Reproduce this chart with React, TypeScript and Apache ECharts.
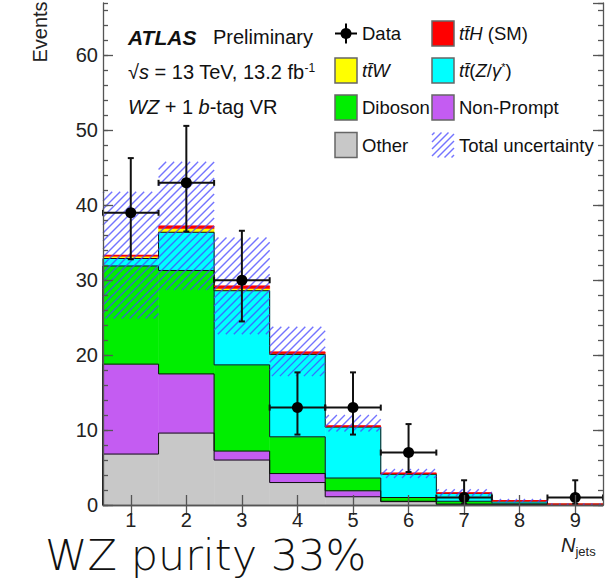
import React, { useEffect, useRef } from 'react';
import * as echarts from 'echarts';

// ---- data ----
const categories = ['1', '2', '3', '4', '5', '6', '7', '8', '9'];
const other = [6.8, 9.6, 6.0, 3.0, 1.1, 0.45, 0.1, 0.05, 0.03];
const nonPrompt = [12.0, 7.9, 1.2, 1.2, 0.8, 0.05, 0.0, 0.0, 0.0];
const diboson = [13.1, 13.8, 11.5, 4.9, 1.7, 0.5, 0.4, 0.2, 0.04];
const ttZ = [1.0, 5.1, 9.9, 11.0, 6.8, 3.1, 1.05, 0.3, 0.03];
const ttW = [0.3, 0.5, 0.3, 0.1, 0.05, 0.05, 0.02, 0.01, 0.0];
const ttH = [0.1, 0.3, 0.3, 0.2, 0.1, 0.08, 0.03, 0.01, 0.0];
const bandLo = [24.9, 28.7, 22.8, 17.2, 9.8, 3.6, 1.2, 0.35, 0.0];
const bandHi = [41.8, 45.8, 35.7, 23.8, 12.0, 4.8, 2.1, 0.8, 0.2];
const dataVals = [39, 43, 30, 13, 13, 7, 1, 0, 1];
const dataHi = [46.3, 50.6, 36.6, 17.7, 17.7, 10.8, 3.3, 0, 3.3];
const dataLo = [32.8, 36.5, 24.5, 9.4, 9.4, 4.4, 0.17, 0, 0.17];
const yTicks = { min: 0, max: 67, major: 10, minor: 2 };

const FF = '"Liberation Sans", Arial, Helvetica, sans-serif';
const frameColor = '#555';
const compColors = ['#c8c8c8', '#c45cf2', '#00ee00', '#00ffff', '#ffff00', '#ff0000'];
const hatchColor = 'rgba(70,70,255,0.75)';
const comps = [other, nonPrompt, diboson, ttZ, ttW, ttH];

function cumAt(i: number): number[] {
  let s = 0;
  return comps.map((c) => (s += c[i]));
}

function hatch(x0: number, y0: number, x1: number, y1: number, spacing: number, stroke: string, lw: number) {
  const out: any[] = [];
  const cStart = Math.ceil((x0 + y0) / spacing) * spacing;
  for (let c = cStart; c <= x1 + y1; c += spacing) {
    const xa = Math.max(x0, c - y1);
    const xb = Math.min(x1, c - y0);
    if (xb - xa < 0.5) continue;
    out.push({ type: 'line', shape: { x1: xa, y1: c - xa, x2: xb, y2: c - xb }, style: { stroke, lineWidth: lw } });
  }
  return out;
}

export default function App() {
  const ref = useRef<HTMLDivElement>(null);
  useEffect(() => {
    const chart = echarts.init(ref.current!, null, { renderer: 'svg' });
    const seriesData = categories.map((_, i) => [i, dataVals[i]]);

    const axisCommonX = {
      type: 'category',
      data: categories,
      boundaryGap: true,
      z: 10,
      axisLine: { show: true, lineStyle: { color: frameColor, width: 1.3 } },
      axisTick: { show: true, inside: true, alignWithLabel: true, length: 10, lineStyle: { color: frameColor, width: 1.3 } },
      splitLine: { show: false },
    };
    const yMajor = (pos: string, labels: boolean) => ({
      type: 'value',
      position: pos,
      min: yTicks.min,
      max: yTicks.max,
      interval: yTicks.major,
      z: 10,
      axisLine: { show: true, lineStyle: { color: frameColor, width: 1.3 } },
      axisTick: { show: true, inside: true, length: 10, lineStyle: { color: frameColor, width: 1.3 } },
      axisLabel: labels
        ? { show: true, fontSize: 20, color: '#222', fontFamily: FF, margin: 5, showMaxLabel: false }
        : { show: false },
      splitLine: { show: false },
    });
    const yMinor = (pos: string) => ({
      type: 'value',
      position: pos,
      min: yTicks.min,
      max: yTicks.max,
      interval: yTicks.minor,
      z: 10,
      axisLine: { show: false },
      axisTick: { show: true, inside: true, length: 5, lineStyle: { color: frameColor, width: 1.3 } },
      axisLabel: { show: false },
      splitLine: { show: false },
    });

    const row = [33.5, 70.5, 107.5, 145];
    const c1 = 335, c2 = 432, bw = 22, bh = 25;
    const t1 = 362, t2 = 459;
    const legFont = 18.5;
    const box = (x: number, y: number, color: string) => ({
      type: 'rect',
      shape: { x, y: y - bh / 2, width: bw, height: bh },
      style: { fill: color, stroke: '#666', lineWidth: 1.5 },
    });
    const ltext = (x: number, y: number, text: string, rich?: any) => ({
      type: 'text',
      x,
      y,
      style: { text, fontSize: legFont, fontFamily: FF, fill: '#111', verticalAlign: 'middle', rich },
    });
    const itRich = {
      i: { fontStyle: 'italic', fontSize: legFont, fontFamily: FF, fill: '#111' },
      s: { fontSize: 11, fontFamily: FF, fill: '#111', verticalAlign: 'top' },
    };

    const graphic: any[] = [
      // y-axis title
      {
        type: 'text', x: 40, y: 32, rotation: Math.PI / 2,
        style: { text: 'Events', fontSize: 20, fontFamily: FF, fill: '#222', align: 'center', verticalAlign: 'middle' },
      },
      // x-axis title
      {
        type: 'text', x: 561, y: 545,
        style: {
          text: '{n|N}{j|jets}', fontFamily: FF, verticalAlign: 'middle',
          rich: {
            n: { fontStyle: 'italic', fontSize: 20, fontFamily: FF, fill: '#222' },
            j: { fontSize: 13, fontFamily: FF, fill: '#222', verticalAlign: 'bottom', padding: [12, 0, 0, 0] },
          },
        },
      },
      // big caption
      {
        type: 'text', x: 45, y: 555,
        style: {
          text: 'WZ purity 33%', fontSize: 43, fontWeight: 200,
          fontFamily: '"DejaVu Sans", "Liberation Sans", sans-serif', fill: '#111', verticalAlign: 'middle',
          lineHeight: 43,
        },
      },
      // ATLAS label
      {
        type: 'text', x: 128, y: 37,
        style: { text: 'ATLAS', fontSize: 21, fontWeight: 'bold', fontStyle: 'italic', fontFamily: FF, fill: '#111', verticalAlign: 'middle' },
      },
      {
        type: 'text', x: 213, y: 37,
        style: { text: 'Preliminary', fontSize: 20, fontFamily: FF, fill: '#111', verticalAlign: 'middle' },
      },
      {
        type: 'text', x: 128, y: 72,
        style: {
          text: '√{i|s} = 13 TeV, 13.2 fb{s|-1}', fontSize: 20, fontFamily: FF, fill: '#111', verticalAlign: 'middle',
          rich: {
            i: { fontStyle: 'italic', fontSize: 20, fontFamily: FF, fill: '#111' },
            s: { fontSize: 12, fontFamily: FF, fill: '#111', verticalAlign: 'top' },
          },
        },
      },
      {
        type: 'text', x: 128, y: 107,
        style: {
          text: '{i|WZ} + 1 {i|b}-tag VR', fontSize: 20, fontFamily: FF, fill: '#111', verticalAlign: 'middle',
          rich: { i: { fontStyle: 'italic', fontSize: 20, fontFamily: FF, fill: '#111' } },
        },
      },
      // legend: Data marker
      { type: 'line', shape: { x1: c1, y1: row[0], x2: c1 + bw, y2: row[0] }, style: { stroke: '#000', lineWidth: 2 } },
      { type: 'line', shape: { x1: c1 + bw / 2, y1: row[0] - 10, x2: c1 + bw / 2, y2: row[0] + 10 }, style: { stroke: '#000', lineWidth: 2 } },
      { type: 'circle', shape: { cx: c1 + bw / 2, cy: row[0], r: 5.5 }, style: { fill: '#000' } },
      ltext(t1, row[0], 'Data'),
      box(c1, row[1], compColors[4]),
      ltext(t1, row[1], '{i|tt̄W}', itRich),
      box(c1, row[2], compColors[2]),
      ltext(t1, row[2], 'Diboson'),
      box(c1, row[3], compColors[0]),
      ltext(t1, row[3], 'Other'),
      box(c2, row[0], compColors[5]),
      ltext(t2, row[0], '{i|tt̄H} (SM)', itRich),
      box(c2, row[1], compColors[3]),
      ltext(t2, row[1], '{i|tt̄}({i|Z}/{i|γ}{s|*})', itRich),
      box(c2, row[2], compColors[1]),
      ltext(t2, row[2], 'Non-Prompt'),
      ...hatch(c2, row[3] - bh / 2, c2 + bw, row[3] + bh / 2, 7, hatchColor, 1.4),
      ltext(t2, row[3], 'Total uncertainty'),
    ];

    const option: any = {
      animation: false,
      backgroundColor: '#fff',
      grid: { left: 103, right: 2, top: 3, bottom: 75, containLabel: false },
      xAxis: [
        { ...axisCommonX, position: 'bottom', axisLabel: { show: true, fontSize: 20, color: '#222', fontFamily: FF, margin: 5 } },
        { ...axisCommonX, position: 'top', axisLabel: { show: false } },
      ],
      yAxis: [yMajor('left', true), yMinor('left'), yMajor('right', false), yMinor('right')],
      series: [
        {
          type: 'custom', name: 'stack', xAxisIndex: 0, yAxisIndex: 0, z: 2, clip: false,
          data: seriesData,
          renderItem: (params: any, api: any) => {
            const i = params.dataIndex;
            const w = api.size([1, 0])[0];
            const x0 = api.coord([i, 0])[0] - w / 2;
            const tops = cumAt(i);
            let prev = 0;
            const children = tops.map((t, k) => {
              const yTop = api.coord([i, t])[1];
              const yBot = api.coord([i, prev])[1];
              prev = t;
              return {
                type: 'rect',
                shape: { x: x0, y: yTop, width: w, height: Math.max(0, yBot - yTop) },
                style: { fill: compColors[k], stroke: compColors[k], lineWidth: 0.5 },
              };
            });
            return { type: 'group', children };
          },
        },
        {
          type: 'custom', name: 'outline', xAxisIndex: 0, yAxisIndex: 0, z: 3, clip: false,
          data: seriesData,
          renderItem: (params: any, api: any) => {
            const i = params.dataIndex;
            const w = api.size([1, 0])[0];
            const x0 = api.coord([i, 0])[0] - w / 2;
            const tops = cumAt(i);
            const prevTops = i > 0 ? cumAt(i - 1) : tops.map(() => 0);
            const children: any[] = [];
            [0, 1, 2, 3].forEach((k) => {
              const y = api.coord([i, tops[k]])[1];
              const yp = api.coord([i, prevTops[k]])[1];
              children.push({ type: 'line', shape: { x1: x0, y1: y, x2: x0 + w, y2: y }, style: { stroke: '#111', lineWidth: 1 } });
              children.push({ type: 'line', shape: { x1: x0, y1: yp, x2: x0, y2: y }, style: { stroke: '#111', lineWidth: 1 } });
            });
            const yr = api.coord([i, tops[5]])[1];
            children.push({ type: 'line', shape: { x1: x0, y1: yr, x2: x0 + w, y2: yr }, style: { stroke: '#ff0000', lineWidth: 1.5 } });
            return { type: 'group', children };
          },
        },
        {
          type: 'custom', name: 'Total uncertainty', xAxisIndex: 0, yAxisIndex: 0, z: 4, clip: false,
          data: seriesData,
          renderItem: (params: any, api: any) => {
            const i = params.dataIndex;
            const w = api.size([1, 0])[0];
            const x0 = api.coord([i, 0])[0] - w / 2;
            const yTop = api.coord([i, bandHi[i]])[1];
            const yBot = api.coord([i, bandLo[i]])[1];
            return { type: 'group', children: hatch(x0, yTop, x0 + w, yBot, 8, hatchColor, 1.4) };
          },
        },
        {
          type: 'custom', name: 'Data', xAxisIndex: 0, yAxisIndex: 0, z: 5, clip: false,
          data: seriesData,
          renderItem: (params: any, api: any) => {
            const i = params.dataIndex;
            const v = dataVals[i];
            if (!v) return { type: 'group', children: [] };
            const w = api.size([1, 0])[0];
            const p = api.coord([i, v]);
            const cx = p[0], cy = p[1];
            const yHi = api.coord([i, dataHi[i]])[1];
            const yLo = api.coord([i, dataLo[i]])[1];
            const ls = { stroke: '#111', lineWidth: 2 };
            return {
              type: 'group',
              children: [
                { type: 'line', shape: { x1: cx - w / 2, y1: cy, x2: cx + w / 2, y2: cy }, style: ls },
                { type: 'line', shape: { x1: cx - w / 2, y1: cy - 3, x2: cx - w / 2, y2: cy + 3 }, style: ls },
                { type: 'line', shape: { x1: cx + w / 2, y1: cy - 3, x2: cx + w / 2, y2: cy + 3 }, style: ls },
                { type: 'line', shape: { x1: cx, y1: yHi, x2: cx, y2: yLo }, style: ls },
                { type: 'line', shape: { x1: cx - 3, y1: yHi, x2: cx + 3, y2: yHi }, style: ls },
                { type: 'line', shape: { x1: cx - 3, y1: yLo, x2: cx + 3, y2: yLo }, style: ls },
                { type: 'circle', shape: { cx, cy, r: 5.5 }, style: { fill: '#000' } },
              ],
            };
          },
        },
      ],
      graphic,
    };
    chart.setOption(option);
    return () => chart.dispose();
  }, []);
  return <div ref={ref} style={{ position: 'absolute', left: 0, top: 0, width: 605, height: 580 }} />;
}
